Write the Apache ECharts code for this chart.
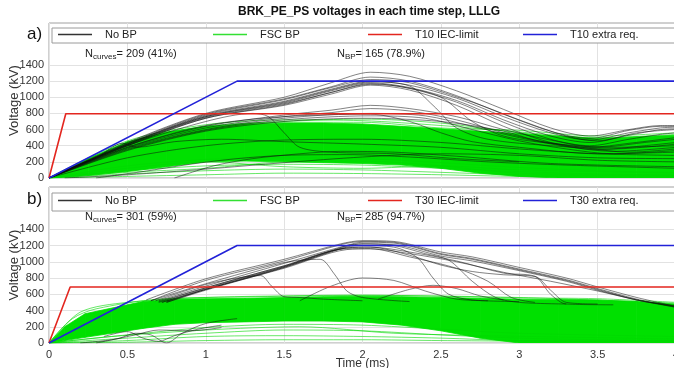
<!DOCTYPE html>
<html><head><meta charset="utf-8">
<script src="https://cdn.jsdelivr.net/npm/echarts@6/dist/echarts.min.js"></script>
<style>html,body{margin:0;padding:0;background:#fff}#c{width:674px;height:368px}</style>
</head><body><div id="c"></div>
<script>
// ---------- axis ticks ----------
const xTicks = [0, 0.5, 1, 1.5, 2, 2.5, 3, 3.5, 4];
const yTickLabels = [0, 200, 400, 600, 800, 1000, 1200, 1400];

// ---------- panel a) T10 ----------
const limitA_IEC = [[0, 0], [0.107, 795], [4, 795]];
const limitA_extra = [[0, 0], [1.2, 1200], [4, 1200]];
const bandA_t  = [0, 0.25, 0.5, 0.75, 1, 1.25, 1.5, 1.75, 2, 2.25, 2.5, 2.75, 3, 3.25, 3.5, 3.75, 4];
const bandA_hi = [0, 240, 450, 570, 640, 670, 680, 680, 670, 640, 610, 580, 550, 520, 490, 510, 530];
const bandA_lo = [0, 30, 80, 140, 200, 210, 200, 190, 180, 160, 120, 60, 20, 0, 0, 0, 0];
const greenA = [
  [[0,0],[0.5,460],[1,660],[1.5,720],[2,710],[2.5,650],[3,570],[3.5,500],[4,540]],
  [[0,0],[0.5,440],[1,640],[1.5,700],[2,730],[2.5,680],[3,560],[3.5,470],[4,500]],
  [[0,0],[0.5,400],[1,620],[1.5,690],[2,690],[2.5,620],[3,590],[3.5,520],[4,560]],
  [[0,0],[0.5,150],[1,230],[1.5,250],[2,240],[2.5,190],[3,130],[3.5,90],[4,70]],
  [[0,0],[0.5,90],[1,150],[1.5,170],[2,160],[2.5,120],[3,80],[3.5,50],[4,40]],
  [[0,0],[0.5,50],[1,90],[1.5,110],[2,100],[2.5,70],[3,40],[4,20]],
  [[0,0],[0.5,20],[1,40],[1.5,60],[2,55],[2.5,40],[3,20],[4,10]],
  [[0,0],[0.5,120],[1,200],[1.5,140],[2,120],[2.5,150],[3,100],[4,60]],
  [[0,0],[0.5,70],[1,120],[1.5,200],[2,210],[2.5,150],[3,60],[4,30]]
];
const blackA = [
  [[0,0],[0.5,440],[1,800],[1.5,1000],[1.8,1180],[2.05,1310],[2.3,1260],[2.6,1080],[2.9,850],[3.2,620],[3.45,520],[3.7,600],[3.9,650],[4,650]],
  [[0,0],[0.5,430],[1,790],[1.5,980],[1.8,1130],[2.05,1250],[2.3,1200],[2.6,1020],[2.9,790],[3.2,580],[3.45,490],[3.7,590],[3.9,640],[4,640]],
  [[0,0],[0.5,420],[1,770],[1.5,950],[1.8,1100],[2.05,1200],[2.3,1150],[2.6,990],[2.9,760],[3.2,560],[3.45,470],[3.7,560],[3.9,620],[4,630]],
  [[0,0],[0.5,420],[1,760],[1.5,930],[1.8,1080],[2.05,1180],[2.3,1120],[2.6,960],[2.9,720],[3.2,520],[3.45,440],[3.7,530],[3.9,600],[4,610]],
  [[0,0],[0.5,410],[1,750],[1.5,920],[1.8,1060],[2.05,1170],[2.3,1110],[2.6,940],[2.9,690],[3.2,480],[3.45,400],[3.7,480],[3.9,540],[4,560]],
  [[0,0],[0.5,400],[1,740],[1.5,900],[1.8,1040],[2.05,1150],[2.3,1090],[2.6,900],[2.9,640],[3.2,440],[3.45,380],[3.7,430],[4,500]],
  [[0,0],[0.5,410],[1,760],[1.5,940],[1.8,1090],[2.05,1190],[2.3,1140],[2.45,900],[2.6,620],[2.8,480],[3.2,400],[3.6,360],[4,420]],
  [[0,0],[0.5,400],[1,740],[1.5,910],[1.8,1060],[2.05,1160],[2.25,1130],[2.5,1000],[2.7,700],[2.9,520],[3.2,430],[3.6,380],[4,400]],
  [[0,0],[0.5,420],[1,780],[1.5,970],[1.8,1120],[2.05,1220],[2.3,1180],[2.7,940],[3.0,720],[3.3,520],[3.5,460],[3.75,560],[4,600]],
  [[0,0],[0.5,400],[1,700],[1.3,800],[1.4,760],[1.5,560],[1.6,380],[1.8,320],[2.2,300],[2.6,240],[3,200]],
  [[0,0],[0.5,380],[1,640],[1.5,780],[1.8,840],[2.05,900],[2.3,860],[2.6,760],[2.9,600],[3.2,470],[3.5,380],[3.8,440],[4,480]],
  [[0,0],[0.5,370],[1,620],[1.5,760],[1.8,810],[2.05,860],[2.3,830],[2.6,720],[2.9,560],[3.2,430],[3.5,350],[3.8,400],[4,440]],
  [[0,0],[0.5,360],[1,600],[1.5,740],[2.05,800],[2.4,770],[2.7,640],[3.0,500],[3.3,390],[3.6,330],[4,380]],
  [[0,0],[0.5,350],[1,590],[1.5,720],[2.05,770],[2.4,740],[2.7,600],[3.0,460],[3.3,360],[3.6,300],[4,340]],
  [[0,0],[0.5,380],[1,650],[1.5,760],[2.05,790],[2.3,700],[2.5,560],[2.7,450],[3.0,380],[3.5,300],[4,320]],
  [[0,0],[0.5,340],[1,580],[1.5,700],[2,740],[2.5,700],[2.9,580],[3.1,470],[3.4,380],[3.7,320],[4,360]],
  [[0,0],[0.3,250],[0.47,430],[0.56,380],[0.8,450],[1.1,480],[1.5,450],[2,420],[2.5,380],[3,300],[3.5,250],[4,240]],
  [[0.3,0],[0.6,80],[0.9,170],[1.2,240],[1.5,280],[1.9,290],[2.3,260],[2.8,200],[3.3,160],[4,120]],
  [[0.8,0],[1.05,150],[1.3,240],[1.6,300],[1.86,330],[2.2,320],[2.6,270],[3.2,180],[4,140]],
  [[0.1,0],[0.5,40],[1,110],[1.5,190],[2,260],[2.5,300],[3,280],[3.5,220],[4,200]],
  [[0,0],[0.5,250],[1,400],[1.5,470],[2,480],[2.5,440],[3,360],[3.5,300],[4,280]]
];

// ---------- panel b) T30 ----------
const limitB_IEC = [[0, 0], [0.135, 690], [4, 690]];
const limitB_extra = [[0, 0], [1.2, 1200], [4, 1200]];
const bandB_t  = [0, 0.1, 0.23, 0.4, 0.6, 0.8, 1, 1.25, 1.5, 1.75, 2, 2.25, 2.5, 2.75, 3, 3.25, 3.5, 3.75, 4];
const bandB_hi = [0, 200, 360, 430, 510, 540, 545, 550, 560, 570, 575, 570, 560, 550, 540, 535, 530, 510, 480];
const bandB_lo = [0, 30, 70, 120, 180, 230, 250, 260, 270, 270, 260, 220, 150, 60, 0, 0, 0, 0, 0];
const greenB = [
  [[0,0],[0.5,60],[1,120],[1.5,160],[2,150],[2.5,100],[3,60],[3.5,40],[4,30]],
  [[0,0],[0.5,30],[1,80],[1.5,90],[2,80],[2.5,60],[3,30],[4,20]],
  [[0,0],[0.5,100],[1,190],[1.5,230],[2,220],[2.5,170],[3,120],[4,80]],
  [[0,0],[0.5,10],[1,30],[1.5,40],[2,40],[2.5,30],[4,10]],
  [[0,0],[0.4,80],[1,160],[1.6,200],[2.2,120],[2.8,90],[4,50]],
  [[0,0],[0.2,380],[0.5,500],[1,560],[1.5,580],[2,590],[2.5,575],[3,555],[3.5,545],[4,500]],
  [[0,0],[0.15,300],[0.3,420],[0.7,540],[1.2,565],[2,585],[3,560],[4,490]]
];
const blackB = [
  [[0.62,530],[1,790],[1.5,1030],[1.86,1220],[2.0,1260],[2.2,1250],[2.5,1120],[2.7,1060],[3.0,930],[3.3,800],[3.5,690],[3.75,560],[4,450]],
  [[0.65,520],[1,770],[1.5,1010],[1.86,1210],[2.0,1250],[2.2,1240],[2.5,1100],[2.7,1040],[3.0,910],[3.3,780],[3.5,670],[3.75,540],[4,440]],
  [[0.72,500],[1,660],[1.5,940],[1.9,1200],[2.0,1240],[2.2,1230],[2.5,1090],[2.7,1030],[3.0,900],[3.3,770],[3.5,660],[3.75,530],[4,440]],
  [[0.75,500],[1,650],[1.5,930],[1.9,1190],[2.0,1220],[2.2,1210],[2.5,1070],[2.7,1010],[3.0,890],[3.3,760],[3.5,650],[3.75,530],[4,450]],
  [[0.75,510],[1,660],[1.5,920],[1.9,1150],[2.05,1160],[2.3,1100],[2.6,1000],[2.9,870],[3.2,760],[3.5,640],[3.8,510],[4,460]],
  [[0.7,510],[1,680],[1.5,950],[1.9,1170],[2.05,1180],[2.3,1120],[2.6,1010],[2.9,860],[3.1,820],[3.2,600],[3.3,480],[3.6,470]],
  [[0.7,520],[1,700],[1.5,980],[1.9,1200],[2.0,1220],[2.2,1200],[2.4,1100],[2.55,1020],[2.7,760],[2.85,560],[3.0,500],[3.3,480]],
  [[0.65,520],[1,730],[1.5,990],[1.73,1030],[1.82,850],[1.9,640],[2.0,560],[2.3,510]],
  [[0.68,520],[1,720],[1.2,800],[1.35,830],[1.42,700],[1.5,570],[1.6,560],[1.75,540],[2.0,520]],
  [[0.75,500],[1,660],[1.5,930],[1.9,1180],[2.0,1200],[2.2,1180],[2.35,1050],[2.45,800],[2.55,600],[2.7,530],[3,510]],
  [[1.6,520],[1.8,700],[2.0,800],[2.2,770],[2.4,640],[2.6,540],[2.8,520]],
  [[2.1,540],[2.3,660],[2.45,710],[2.6,670],[2.75,580],[2.9,530]],
  [[0.72,500],[1,670],[1.5,940],[1.9,1170],[2.05,1180],[2.3,1080],[2.5,960],[2.7,880],[2.9,840],[3.1,820],[3.2,650],[3.3,500],[3.5,480]],
  [[0.7,500],[1,680],[1.5,950],[1.9,1160],[2.05,1160],[2.3,1060],[2.6,920],[2.8,760],[2.95,560],[3.1,500]],
  [[0.3,0],[0.45,60],[0.55,120],[0.65,100],[0.75,0],[0.85,120],[1.0,240],[1.2,300]],
  [[0.35,80],[0.5,140],[0.6,60],[0.7,20],[0.8,90],[0.95,170],[1.1,220]],
  [[0.2,0],[0.4,40],[0.55,100],[0.7,160],[0.9,150],[1.1,190]]
];

// ---------- styles ----------
const GREEN = '#00e000';
const BLACK = 'rgba(15,15,15,0.58)';
const RED = '#e3261f';
const BLUE = '#2222d8';
const GRIDC = '#e2e2e2';
const FONT = 'Liberation Sans, Arial, Helvetica, sans-serif';

function bandSeries(idx, t, lo, hi) {
  const data = [];
  for (let i = 0; i < t.length - 1; i++) data.push([t[i], lo[i], hi[i], t[i + 1], lo[i + 1], hi[i + 1]]);
  return {
    type: 'custom', name: 'band_' + idx, xAxisIndex: idx, yAxisIndex: idx, silent: true, clip: true,
    encode: { x: [0, 3], y: [1, 2, 4, 5] },
    renderItem: function (params, api) {
      const p = [
        api.coord([api.value(0), api.value(1)]),
        api.coord([api.value(3), api.value(4)]),
        api.coord([api.value(3), api.value(5)]),
        api.coord([api.value(0), api.value(2)])
      ];
      return { type: 'polygon', shape: { points: p }, style: { fill: GREEN, stroke: GREEN, lineWidth: 0.8 } };
    },
    data
  };
}
function curves(idx, list, name, color, width) {
  return list.map(c => ({
    type: 'line', name, xAxisIndex: idx, yAxisIndex: idx, data: c,
    symbol: 'none', smooth: 0.3, color, lineStyle: { color, width }, silent: true
  }));
}
function limit(idx, data, name, color) {
  return { type: 'line', name, xAxisIndex: idx, yAxisIndex: idx, data, symbol: 'none',
    color, lineStyle: { color, width: 1.6 }, silent: true, z: 3 };
}

const series = [
  bandSeries(0, bandA_t, bandA_lo, bandA_hi),
  ...curves(0, greenA, 'FSC BP', 'rgba(0,215,0,0.75)', 0.8),
  ...curves(0, blackA, 'No BP', BLACK, 0.9),
  limit(0, limitA_IEC, 'T10 IEC-limit', RED),
  limit(0, limitA_extra, 'T10 extra req.', BLUE),
  bandSeries(1, bandB_t, bandB_lo, bandB_hi),
  ...curves(1, greenB, 'FSC BP', 'rgba(0,215,0,0.75)', 0.8),
  ...curves(1, blackB, 'No BP', BLACK, 0.9),
  limit(1, limitB_IEC, 'T30 IEC-limit', RED),
  limit(1, limitB_extra, 'T30 extra req.', BLUE)
];

function leg(name, left, top, color) {
  return { data: [name], left, top, orient: 'horizontal', padding: 0, icon: 'rect',
    itemWidth: 34, itemHeight: 1.5, itemStyle: { color }, selectedMode: false, z: 6,
    textStyle: { fontSize: 11, color: '#222', fontFamily: FONT, padding: [0, 0, 0, 8] } };
}
const legendLefts = [58, 213, 368, 523];

function xAx(idx, labels) {
  return { type: 'value', gridIndex: idx, min: xTicks[0], max: xTicks[xTicks.length - 1], interval: 0.5,
    axisLine: { show: false }, axisTick: { show: false },
    axisLabel: { show: labels, fontSize: 11, color: '#333', margin: 6, fontFamily: FONT },
    splitLine: { show: true, lineStyle: { color: GRIDC } },
    name: labels ? 'Time (ms)' : '', nameLocation: 'middle', nameGap: 15, nameMoveOverlap: false,
    nameTextStyle: { fontSize: 12, color: '#333', fontFamily: FONT, verticalAlign: 'top' } };
}
function yAx(idx) {
  // only the lines from 0 to 1400 are drawn; the area above holds legend and notes
  const cols = yTickLabels.map(() => GRIDC).concat(['rgba(0,0,0,0)', 'rgba(0,0,0,0)', 'rgba(0,0,0,0)']);
  return { type: 'value', gridIndex: idx, min: 0, max: 1920, interval: 200,
    axisLine: { show: false }, axisTick: { show: false },
    splitLine: { show: true, lineStyle: { color: cols } },
    axisLabel: { fontSize: 11, color: '#333', margin: 5, fontFamily: FONT,
      formatter: v => (yTickLabels.indexOf(v) >= 0 ? String(v) : '') },
    name: 'Voltage (kV)', nameLocation: 'middle', nameGap: 35, nameMoveOverlap: false,
    nameTextStyle: { fontSize: 13, color: '#333', fontFamily: FONT, verticalAlign: 'middle' } };
}

function subText(x, y, main, sub, rest) {
  return { type: 'text', left: x, top: y, z: 7,
    style: { text: '{m|' + main + '}{s|' + sub + '}{m|' + rest + '}',
      rich: { m: { fontSize: 11, fill: '#222', fontFamily: FONT },
              s: { fontSize: 8, fill: '#222', fontFamily: FONT, padding: [7, 0, 0, 0] } } } };
}

const option = {
  animation: false,
  backgroundColor: '#fff',
  textStyle: { fontFamily: FONT },
  title: { text: 'BRK_PE_PS voltages in each time step, LLLG', left: 238, top: 6, padding: 0,
    textStyle: { fontSize: 12, fontWeight: 'bold', color: '#111', fontFamily: FONT } },
  grid: [
    { left: 49, right: -2, top: 23, height: 155, outerBoundsMode: 'none', containLabel: false, show: true, borderColor: '#a0a0a0', borderWidth: 1, backgroundColor: 'transparent' },
    { left: 49, right: -2, top: 187, height: 156, outerBoundsMode: 'none', containLabel: false, show: true, borderColor: '#a0a0a0', borderWidth: 1, backgroundColor: 'transparent' }
  ],
  xAxis: [xAx(0, false), xAx(1, true)],
  yAxis: [yAx(0), yAx(1)],
  legend: [
    leg('No BP', legendLefts[0], 29, '#333'),
    leg('FSC BP', legendLefts[1], 29, '#33e033'),
    leg('T10 IEC-limit', legendLefts[2], 29, RED),
    leg('T10 extra req.', legendLefts[3], 29, BLUE),
    leg('No BP', legendLefts[0], 195, '#333'),
    leg('FSC BP', legendLefts[1], 195, '#33e033'),
    leg('T30 IEC-limit', legendLefts[2], 195, RED),
    leg('T30 extra req.', legendLefts[3], 195, BLUE)
  ],
  graphic: [
    { type: 'rect', z: 5, shape: { x: 52, y: 28, width: 640, height: 15 }, style: { fill: '#fff', stroke: '#9a9a9a', lineWidth: 1 } },
    { type: 'rect', z: 5, shape: { x: 52, y: 193, width: 640, height: 18 }, style: { fill: '#fff', stroke: '#9a9a9a', lineWidth: 1 } },
    { type: 'text', left: 27, top: 26, z: 7, style: { text: 'a)', fontSize: 17, fill: '#111', fontFamily: FONT } },
    { type: 'text', left: 27, top: 191, z: 7, style: { text: 'b)', fontSize: 17, fill: '#111', fontFamily: FONT } },
    subText(85, 48, 'N', 'curves', '= 209 (41%)'),
    subText(337, 48, 'N', 'BP', '= 165 (78.9%)'),
    subText(85, 211, 'N', 'curves', '= 301 (59%)'),
    subText(337, 211, 'N', 'BP', '= 285 (94.7%)')
  ],
  series
};
const chart = echarts.init(document.getElementById('c'));
chart.setOption(option);
</script></body></html>
